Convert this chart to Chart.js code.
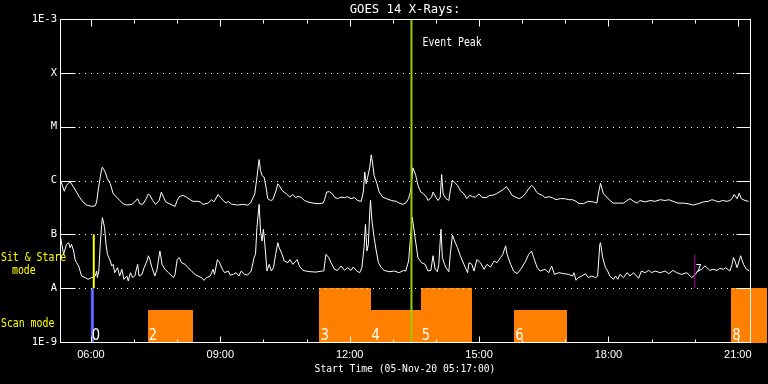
<!DOCTYPE html>
<html><head><meta charset="utf-8">
<script src="https://cdn.jsdelivr.net/npm/chart.js@4/dist/chart.umd.min.js"></script>
<style>html,body{margin:0;padding:0;background:#000;}canvas{display:block}</style>
</head><body><canvas id="c" width="768" height="384"></canvas>
<script>
// ---- text ----
const chartTitle = 'GOES 14 X-Rays:';
const xAxisTitle = 'Start Time (05-Nov-20 05:17:00)';
// ---- axes (x in minutes since midnight, 05-Nov-2020) ----
const xMin = 317, xMax = 1277;
const xTickValues = [360, 540, 720, 900, 1080, 1260];
const xTickLabels = ['06:00', '09:00', '12:00', '15:00', '18:00', '21:00'];
const yTickValues = [1e-9, 1e-8, 1e-7, 1e-6, 1e-5, 1e-4, 1e-3];
const yTickLabels = ['1E-9', 'A', 'B', 'C', 'M', 'X', '1E-3'];
// ---- GOES long channel (1-8 A), flux in 1e-6 W/m^2 ----
const longMinutes = [318,323,326,331,336,340,344,349,354,361,366,368,370,373,375,376,380,383,387,391,396,400,405,410,417,421,425,428,432,437,440,442,446,450,455,458,461,464,469,477,480,483,488,493,498,502,508,512,516,523,528,531,537,540,544,548,551,556,
558,564,571,578,582,588,591,594,596,598,601,604,606,610,613,617,620,622,626,632,637,641,645,648,653,657,662,669,676,683,685,688,692,696,699,703,708,713,717,722,727,731,736,739,741,743,745,748,750,752,754,758,761,766,771,778,785,789,794,
798,802,805,808,812,815,819,823,827,829,834,836,840,843,846,848,850,854,858,860,863,866,870,874,879,883,887,891,895,900,904,910,915,919,924,928,933,938,942,946,951,956,960,965,969,973,976,980,983,988,992,997,1002,1007,1013,1019,1025,1030,1035,
1038,1045,1052,1059,1064,1066,1069,1073,1078,1082,1087,1094,1101,1106,1110,1115,1120,1124,1131,1138,1145,1152,1159,1164,1170,1177,1184,1191,1198,1205,1212,1219,1224,1228,1233,1239,1245,1249,1252,1255,1259,1262,1265,1270,1275];
const longFluxE6 = [1.0,0.63,0.81,0.95,0.75,0.61,0.49,0.40,0.35,0.33,0.34,0.40,0.65,1.15,1.65,1.77,1.43,1.07,0.87,0.565,0.49,0.425,0.37,0.35,0.36,0.40,0.46,0.37,0.36,0.46,0.565,0.53,0.425,0.36,0.425,0.61,0.49,0.40,0.37,0.33,0.425,0.50,0.53,0.49,0.44,0.41,0.41,0.40,0.36,0.38,0.44,0.40,0.55,0.49,0.425,0.38,0.41,0.36,
0.36,0.35,0.36,0.35,0.38,0.565,1.15,2.45,1.53,1.24,1.15,0.70,0.46,0.425,0.44,0.61,0.87,0.81,0.65,0.565,0.49,0.55,0.48,0.51,0.48,0.425,0.40,0.38,0.37,0.38,0.44,0.61,0.62,0.565,0.49,0.46,0.49,0.48,0.50,0.46,0.48,0.425,0.41,0.61,1.43,0.87,1.15,1.77,3.0,2.04,1.24,0.87,0.61,0.49,0.46,0.425,0.41,0.38,0.36,
0.38,0.46,0.65,1.72,1.24,0.81,0.61,0.565,0.49,0.425,0.49,0.61,0.49,0.425,0.49,1.29,0.565,0.46,0.425,0.65,1.0,0.93,0.81,0.65,0.565,0.46,0.53,0.50,0.49,0.565,0.49,0.48,0.53,0.53,0.565,0.61,0.67,0.77,0.65,0.53,0.49,0.46,0.49,0.58,0.70,0.81,0.75,0.61,0.565,0.53,0.48,0.50,0.48,0.44,0.46,0.46,0.44,0.44,0.41,
0.38,0.37,0.41,0.40,0.38,0.565,0.89,0.565,0.49,0.425,0.38,0.38,0.38,0.425,0.46,0.41,0.38,0.425,0.40,0.425,0.41,0.44,0.425,0.44,0.41,0.38,0.38,0.37,0.35,0.37,0.40,0.41,0.44,0.425,0.40,0.425,0.41,0.425,0.46,0.55,0.46,0.58,0.46,0.425,0.41];
// ---- GOES short channel (0.5-4 A), flux in 1e-7 W/m^2 ----
const shortMinutes = [318,322,326,329,331,333,336,338,340,343,345,347,352,356,361,363,366,368,369,371,373,375,376,379,381,383,387,389,391,393,397,400,403,406,410,412,415,418,421,425,427,431,434,438,440,442,445,449,452,456,459,463,468,475,477,480,483,486,491,495,500,505,509,514,517,521,526,530,532,536,539,543,546,551,554,
558,562,566,569,574,578,583,587,589,591,594,596,598,600,602,605,608,611,614,617,620,622,626,629,634,637,641,647,650,655,659,666,673,682,684,687,691,694,699,703,708,713,717,722,725,730,734,737,740,742,744,746,748,749,751,754,757,760,764,768,775,782,789,795,
798,802,807,811,815,820,825,829,833,836,839,842,844,847,849,852,854,858,860,863,866,870,874,879,884,886,890,893,897,902,907,911,916,921,925,930,933,937,939,944,948,953,958,965,969,973,976,981,985,992,997,1001,1005,1011,1018,1025,1030,1032,1035,
1038,1043,1048,1052,1057,1062,1065,1068,1069,1072,1076,1079,1082,1087,1090,1093,1096,1101,1106,1110,1115,1118,1122,1126,1131,1136,1140,1145,1152,1159,1164,1170,1175,1182,1189,1196,1201,1204,1210,1214,1217,1221,1226,1231,1235,1240,1243,1249,1252,1254,1256,1259,1264,1268,1272,1276];
const shortFluxE7 = [0.85,0.425,0.65,0.70,0.565,0.65,0.49,0.34,0.297,0.258,0.208,0.168,0.157,0.146,0.157,0.157,0.168,0.208,0.157,0.208,0.65,1.53,2.04,1.33,0.65,0.425,0.32,0.258,0.277,0.194,0.24,0.168,0.224,0.146,0.168,0.136,0.194,0.157,0.168,0.277,0.168,0.18,0.24,0.32,0.40,0.34,0.24,0.168,0.224,0.49,0.277,0.224,0.194,0.157,0.18,0.34,0.37,0.297,0.277,0.24,0.208,0.18,0.168,0.157,0.14,0.157,0.168,0.224,0.18,0.34,0.297,0.224,0.194,0.208,0.175,
0.18,0.194,0.168,0.208,0.18,0.175,0.208,0.37,0.425,1.33,3.61,1.15,0.75,1.24,0.65,0.208,0.277,0.208,0.24,0.425,0.70,0.565,0.425,0.32,0.297,0.34,0.277,0.34,0.258,0.214,0.208,0.202,0.199,0.208,0.208,0.425,0.37,0.297,0.224,0.214,0.258,0.214,0.24,0.214,0.247,0.208,0.194,0.24,0.565,1.53,0.49,0.65,2.72,4.29,1.77,0.87,0.49,0.297,0.24,0.214,0.202,0.208,0.194,0.214,
0.208,0.32,2.1,0.87,0.37,0.297,0.277,0.208,0.214,0.40,0.224,0.202,0.277,1.24,0.37,0.277,0.24,0.202,0.425,0.97,0.75,0.565,0.40,0.277,0.194,0.297,0.277,0.208,0.34,0.297,0.224,0.277,0.247,0.32,0.297,0.37,0.425,0.61,0.425,0.277,0.208,0.186,0.224,0.32,0.425,0.49,0.37,0.24,0.208,0.224,0.194,0.258,0.18,0.194,0.186,0.18,0.168,0.194,0.14,
0.157,0.168,0.186,0.157,0.168,0.157,0.168,0.65,0.70,0.37,0.24,0.208,0.168,0.146,0.168,0.146,0.18,0.157,0.194,0.168,0.194,0.175,0.153,0.208,0.194,0.214,0.194,0.208,0.194,0.208,0.186,0.214,0.194,0.18,0.194,0.157,0.18,0.208,0.224,0.258,0.24,0.214,0.224,0.214,0.233,0.224,0.24,0.208,0.277,0.37,0.32,0.24,0.40,0.277,0.224,0.208];
// ---- observation blocks (scan mode) ----
const scanStart = [439, 678, 749, 819, 949, 1251];
const scanEnd   = [502, 749, 819, 890, 1022, 1301];
const scanTop   = [4e-9, 1e-8, 4e-9, 1e-8, 4e-9, 1e-8];
const scanLabel = ['2', '3', '4', '5', '6', '8'];
// ---- single-time markers ----
const scanMarkMinute = 362, scanMarkLabel = '0';
const sitStareMinute = 364;
const eventPeakMinute = 806, eventPeakLabel = 'Event Peak';
const mark7Minute = 1200, mark7Top = 4.2e-8, mark7Label = '7';

const MONO = '"DejaVu Sans Mono", monospace';

const overlay = {
  id: 'overlay',
  beforeDatasetsDraw(chart) {
    const {ctx, scales: {x, y}} = chart;
    ctx.save();
    ctx.fillStyle = '#ff8000';
    const yb = y.getPixelForValue(1e-9);
    scanStart.forEach((s, i) => {
      const x0 = x.getPixelForValue(s), x1 = x.getPixelForValue(scanEnd[i]);
      const yt = y.getPixelForValue(scanTop[i]);
      ctx.fillRect(Math.round(x0), Math.round(yt), Math.round(x1) - Math.round(x0), Math.round(yb) - Math.round(yt) + 1);
    });
    ctx.restore();
  },
  afterDatasetsDraw(chart) {
    const {ctx, chartArea: a, scales: {x, y}} = chart;
    ctx.save();
    const L = Math.round(a.left) + 0.5, R = Math.round(a.right) + 0.5;
    const T = Math.round(a.top) + 0.5, B = Math.round(a.bottom) + 0.5;
    // markers
    const vline = (m, v0, v1, col, w) => {
      const px = x.getPixelForValue(m);
      ctx.strokeStyle = col; ctx.lineWidth = w;
      ctx.beginPath(); ctx.moveTo(px, y.getPixelForValue(v0)); ctx.lineTo(px, y.getPixelForValue(v1)); ctx.stroke();
    };
    vline(scanMarkMinute, 1e-9, 1e-8, '#6464ff', 3);
    vline(sitStareMinute, 1e-8, 1e-7, '#ffff00', 2);
    vline(mark7Minute, 1e-8, mark7Top, '#b000b0', 1);
    vline(eventPeakMinute, 1e-9, 1e-3, '#9acd00', 2);
    // frame
    ctx.strokeStyle = '#fff'; ctx.lineWidth = 1;
    ctx.strokeRect(L, T, R - L, B - T);
    // y decade ticks and dotted grid
    yTickValues.slice(1, -1).forEach(v => {
      const py = Math.round(y.getPixelForValue(v)) + 0.5;
      ctx.setLineDash([]);
      ctx.beginPath(); ctx.moveTo(L, py); ctx.lineTo(L + 15, py); ctx.moveTo(R - 14, py); ctx.lineTo(R, py); ctx.stroke();
      ctx.setLineDash([1, 5]);
      ctx.beginPath(); ctx.moveTo(Math.round(L) + 18, py); ctx.lineTo(Math.round(R) - 15, py); ctx.stroke();
    });
    ctx.setLineDash([]);
    // hour ticks
    for (let m = Math.ceil(xMin / 60) * 60; m <= xMax; m += 60) {
      const px = Math.round(x.getPixelForValue(m)) + 0.5;
      const major = (m / 60) % 3 === 0;
      ctx.beginPath();
      ctx.moveTo(px, B); ctx.lineTo(px, B - (major ? 6 : 3));
      ctx.moveTo(px, T); ctx.lineTo(px, T + (major ? 7 : 4));
      ctx.stroke();
    }
    const text = (txt, px, py, font, sx, align) => {
      ctx.save(); ctx.translate(px, py); ctx.scale(sx, 1);
      ctx.font = font; ctx.textAlign = align || 'left'; ctx.fillText(txt, 0, 0); ctx.restore();
    };
    // block labels
    ctx.fillStyle = '#fff';
    ctx.textBaseline = 'alphabetic';
    const digitY = Math.round(a.bottom) - 2;
    text(scanMarkLabel, x.getPixelForValue(scanMarkMinute) - 0.5, digitY, '16px "DejaVu Sans"', 0.82);
    scanStart.forEach((s, i) => text(scanLabel[i], x.getPixelForValue(s) + 1, digitY, '16px "DejaVu Sans"', 0.82));
    // small 7 marker label
    ctx.textBaseline = 'top';
    text(mark7Label, x.getPixelForValue(mark7Minute) + 1, y.getPixelForValue(mark7Top) + 9, '11px ' + MONO, 0.9);
    // event peak text
    ctx.textBaseline = 'middle';
    text(eventPeakLabel, x.getPixelForValue(eventPeakMinute) + 11, 43, '12px ' + MONO, 0.82);
    // title
    text(chartTitle, (a.left + a.right) / 2, 10, '12.5px ' + MONO, 0.98, 'center');
    // yellow mode labels
    ctx.fillStyle = '#ffff00';
    text('Sit & Stare', 1, 258, '12px ' + MONO, 0.82);
    text('mode', 12, 271, '12px ' + MONO, 0.82);
    text('Scan mode', 1, 324, '12px ' + MONO, 0.82);
    ctx.restore();
  }
};

new Chart(document.getElementById('c'), {
  type: 'scatter',
  data: {
    datasets: [
      {data: longMinutes.map((m, i) => ({x: m, y: longFluxE6[i] * 1e-6})), showLine: true, borderColor: '#fff', borderWidth: 1, pointRadius: 0, tension: 0},
      {data: shortMinutes.map((m, i) => ({x: m, y: shortFluxE7[i] * 1e-7})), showLine: true, borderColor: '#fff', borderWidth: 1, pointRadius: 0, tension: 0}
    ]
  },
  options: {
    responsive: false, animation: false, devicePixelRatio: 1,
    layout: {padding: {top: 19, right: 18, left: 0, bottom: 0}},
    plugins: {legend: {display: false}, tooltip: {enabled: false}, title: {display: false}},
    scales: {
      x: {
        type: 'linear', min: xMin, max: xMax,
        grid: {display: false, drawTicks: false}, border: {display: false},
        afterBuildTicks: s => { s.ticks = xTickValues.map(v => ({value: v})); },
        afterFit: s => { s.height = 42; },
        ticks: {color: '#fff', font: {family: '"Liberation Sans"', size: 11}, padding: 6, maxRotation: 0, autoSkip: false,
                callback: (v, i) => xTickLabels[i]},
        title: {display: true, text: xAxisTitle, color: '#fff', font: {family: MONO, size: 9.7}, padding: {top: 0, bottom: 9}}
      },
      y: {
        type: 'logarithmic', min: 1e-9, max: 1e-3,
        grid: {display: false, drawTicks: false}, border: {display: false},
        afterBuildTicks: s => { s.ticks = yTickValues.map(v => ({value: v})); },
        afterFit: s => { s.width = 60; },
        ticks: {color: '#fff', font: {family: MONO, size: 10.5}, padding: 3, autoSkip: false,
                callback: (v, i) => yTickLabels[i]}
      }
    }
  },
  plugins: [overlay]
});
</script></body></html>
